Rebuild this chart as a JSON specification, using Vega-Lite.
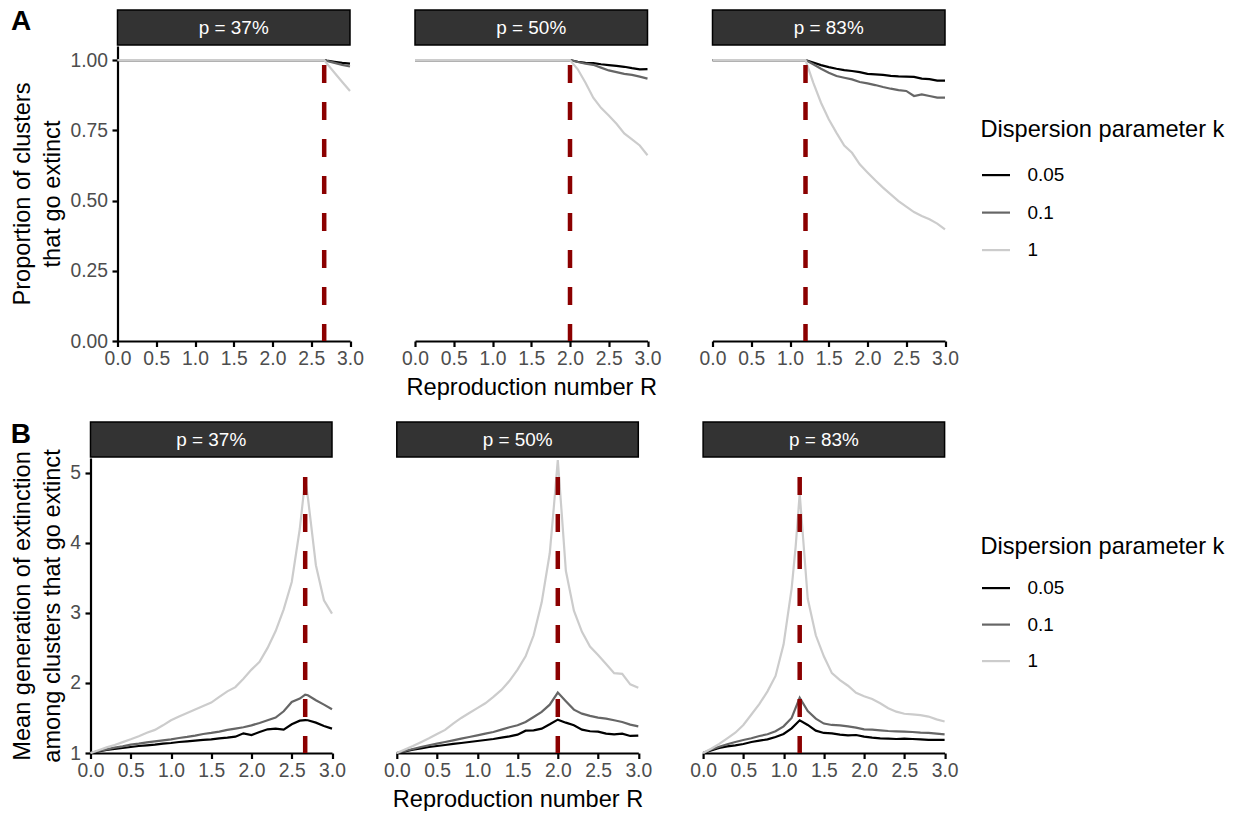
{
"$schema": "https://vega.github.io/schema/vega-lite/v6.json",
"background": "white",
"padding": {"left": 10.5, "top": 7, "right": 5, "bottom": 0},
"config": {
  "font": "Liberation Sans",
  "view": {"stroke": null},
  "axis": {"grid": false, "domainColor": "#000000", "domainWidth": 2.2, "tickColor": "#000000", "tickWidth": 2.2, "tickSize": 5.5, "labelColor": "#4d4d4d", "labelFontSize": 19.3, "labelOverlap": false, "labelFlush": false, "titleFontSize": 23.6, "titleFontWeight": "normal", "titleColor": "#000000", "titleLineHeight": 30},
  "axisX": {"labelPadding": 2.5, "titlePadding": 7, "labelOverlap": false, "labelSeparation": -20},
  "axisY": {"labelPadding": 4.5, "titlePadding": 5},
  "legend": {"titleFontSize": 23.6, "titleFontWeight": "normal", "titleColor": "#000000", "titleLimit": 400, "labelFontSize": 18.9, "labelColor": "#000000", "symbolType": "stroke", "symbolSize": 784, "symbolStrokeWidth": 2.2, "rowPadding": 11.5, "titlePadding": 18, "labelOffset": 16, "padding": 0}
},
"datasets": {
"ext": [
{"p":37,"k":"0.05","R":0,"v":1},{"p":37,"k":"0.05","R":0.5,"v":1},{"p":37,"k":"0.05","R":1,"v":1},{"p":37,"k":"0.05","R":1.5,"v":1},{"p":37,"k":"0.05","R":2,"v":1},{"p":37,"k":"0.05","R":2.5,"v":1},{"p":37,"k":"0.05","R":2.6,"v":1},{"p":37,"k":"0.05","R":2.667,"v":1},{"p":37,"k":"0.05","R":2.7,"v":0.998},{"p":37,"k":"0.05","R":2.8,"v":0.994},{"p":37,"k":"0.05","R":2.9,"v":0.99},{"p":37,"k":"0.05","R":3,"v":0.987},
{"p":37,"k":"0.1","R":0,"v":1},{"p":37,"k":"0.1","R":0.5,"v":1},{"p":37,"k":"0.1","R":1,"v":1},{"p":37,"k":"0.1","R":1.5,"v":1},{"p":37,"k":"0.1","R":2,"v":1},{"p":37,"k":"0.1","R":2.5,"v":1},{"p":37,"k":"0.1","R":2.6,"v":1},{"p":37,"k":"0.1","R":2.667,"v":1},{"p":37,"k":"0.1","R":2.7,"v":0.997},{"p":37,"k":"0.1","R":2.8,"v":0.99},{"p":37,"k":"0.1","R":2.9,"v":0.983},{"p":37,"k":"0.1","R":3,"v":0.977},
{"p":37,"k":"1","R":0,"v":1},{"p":37,"k":"1","R":0.5,"v":1},{"p":37,"k":"1","R":1,"v":1},{"p":37,"k":"1","R":1.5,"v":1},{"p":37,"k":"1","R":2,"v":1},{"p":37,"k":"1","R":2.5,"v":1},{"p":37,"k":"1","R":2.6,"v":1},{"p":37,"k":"1","R":2.667,"v":1},{"p":37,"k":"1","R":2.7,"v":0.988},{"p":37,"k":"1","R":2.8,"v":0.955},{"p":37,"k":"1","R":2.9,"v":0.922},{"p":37,"k":"1","R":3,"v":0.89},
{"p":50,"k":"0.05","R":0,"v":1},{"p":50,"k":"0.05","R":0.5,"v":1},{"p":50,"k":"0.05","R":1,"v":1},{"p":50,"k":"0.05","R":1.5,"v":1},{"p":50,"k":"0.05","R":2,"v":1},{"p":50,"k":"0.05","R":2.1,"v":0.994},{"p":50,"k":"0.05","R":2.2,"v":0.99},{"p":50,"k":"0.05","R":2.3,"v":0.989},{"p":50,"k":"0.05","R":2.4,"v":0.985},{"p":50,"k":"0.05","R":2.5,"v":0.982},{"p":50,"k":"0.05","R":2.6,"v":0.979},{"p":50,"k":"0.05","R":2.7,"v":0.976},{"p":50,"k":"0.05","R":2.8,"v":0.971},{"p":50,"k":"0.05","R":2.9,"v":0.967},{"p":50,"k":"0.05","R":3,"v":0.968},
{"p":50,"k":"0.1","R":0,"v":1},{"p":50,"k":"0.1","R":0.5,"v":1},{"p":50,"k":"0.1","R":1,"v":1},{"p":50,"k":"0.1","R":1.5,"v":1},{"p":50,"k":"0.1","R":2,"v":1},{"p":50,"k":"0.1","R":2.1,"v":0.993},{"p":50,"k":"0.1","R":2.2,"v":0.987},{"p":50,"k":"0.1","R":2.3,"v":0.983},{"p":50,"k":"0.1","R":2.4,"v":0.973},{"p":50,"k":"0.1","R":2.5,"v":0.963},{"p":50,"k":"0.1","R":2.6,"v":0.957},{"p":50,"k":"0.1","R":2.7,"v":0.951},{"p":50,"k":"0.1","R":2.8,"v":0.947},{"p":50,"k":"0.1","R":2.9,"v":0.941},{"p":50,"k":"0.1","R":3,"v":0.934},
{"p":50,"k":"1","R":0,"v":1},{"p":50,"k":"1","R":0.5,"v":1},{"p":50,"k":"1","R":1,"v":1},{"p":50,"k":"1","R":1.5,"v":1},{"p":50,"k":"1","R":2,"v":1},{"p":50,"k":"1","R":2.1,"v":0.967},{"p":50,"k":"1","R":2.2,"v":0.919},{"p":50,"k":"1","R":2.3,"v":0.866},{"p":50,"k":"1","R":2.4,"v":0.83},{"p":50,"k":"1","R":2.5,"v":0.803},{"p":50,"k":"1","R":2.6,"v":0.773},{"p":50,"k":"1","R":2.7,"v":0.739},{"p":50,"k":"1","R":2.8,"v":0.718},{"p":50,"k":"1","R":2.9,"v":0.696},{"p":50,"k":"1","R":3,"v":0.661},
{"p":83,"k":"0.05","R":0,"v":1},{"p":83,"k":"0.05","R":0.5,"v":1},{"p":83,"k":"0.05","R":1,"v":1},{"p":83,"k":"0.05","R":1.2,"v":1},{"p":83,"k":"0.05","R":1.3,"v":0.991},{"p":83,"k":"0.05","R":1.4,"v":0.982},{"p":83,"k":"0.05","R":1.5,"v":0.975},{"p":83,"k":"0.05","R":1.6,"v":0.969},{"p":83,"k":"0.05","R":1.7,"v":0.964},{"p":83,"k":"0.05","R":1.8,"v":0.961},{"p":83,"k":"0.05","R":1.9,"v":0.957},{"p":83,"k":"0.05","R":2,"v":0.951},{"p":83,"k":"0.05","R":2.1,"v":0.949},{"p":83,"k":"0.05","R":2.2,"v":0.947},{"p":83,"k":"0.05","R":2.3,"v":0.944},{"p":83,"k":"0.05","R":2.4,"v":0.942},{"p":83,"k":"0.05","R":2.5,"v":0.941},{"p":83,"k":"0.05","R":2.6,"v":0.94},{"p":83,"k":"0.05","R":2.7,"v":0.934},{"p":83,"k":"0.05","R":2.8,"v":0.932},{"p":83,"k":"0.05","R":2.9,"v":0.927},{"p":83,"k":"0.05","R":3,"v":0.927},
{"p":83,"k":"0.1","R":0,"v":1},{"p":83,"k":"0.1","R":0.5,"v":1},{"p":83,"k":"0.1","R":1,"v":1},{"p":83,"k":"0.1","R":1.2,"v":1},{"p":83,"k":"0.1","R":1.3,"v":0.985},{"p":83,"k":"0.1","R":1.4,"v":0.969},{"p":83,"k":"0.1","R":1.5,"v":0.955},{"p":83,"k":"0.1","R":1.6,"v":0.943},{"p":83,"k":"0.1","R":1.7,"v":0.937},{"p":83,"k":"0.1","R":1.8,"v":0.931},{"p":83,"k":"0.1","R":1.9,"v":0.922},{"p":83,"k":"0.1","R":2,"v":0.917},{"p":83,"k":"0.1","R":2.1,"v":0.911},{"p":83,"k":"0.1","R":2.2,"v":0.904},{"p":83,"k":"0.1","R":2.3,"v":0.898},{"p":83,"k":"0.1","R":2.4,"v":0.893},{"p":83,"k":"0.1","R":2.5,"v":0.89},{"p":83,"k":"0.1","R":2.6,"v":0.872},{"p":83,"k":"0.1","R":2.7,"v":0.878},{"p":83,"k":"0.1","R":2.8,"v":0.872},{"p":83,"k":"0.1","R":2.9,"v":0.866},{"p":83,"k":"0.1","R":3,"v":0.866},
{"p":83,"k":"1","R":0,"v":1},{"p":83,"k":"1","R":0.5,"v":1},{"p":83,"k":"1","R":1,"v":1},{"p":83,"k":"1","R":1.2,"v":1},{"p":83,"k":"1","R":1.3,"v":0.92},{"p":83,"k":"1","R":1.4,"v":0.848},{"p":83,"k":"1","R":1.5,"v":0.789},{"p":83,"k":"1","R":1.6,"v":0.741},{"p":83,"k":"1","R":1.7,"v":0.696},{"p":83,"k":"1","R":1.8,"v":0.67},{"p":83,"k":"1","R":1.9,"v":0.629},{"p":83,"k":"1","R":2,"v":0.6},{"p":83,"k":"1","R":2.1,"v":0.572},{"p":83,"k":"1","R":2.2,"v":0.546},{"p":83,"k":"1","R":2.3,"v":0.522},{"p":83,"k":"1","R":2.4,"v":0.498},{"p":83,"k":"1","R":2.5,"v":0.478},{"p":83,"k":"1","R":2.6,"v":0.459},{"p":83,"k":"1","R":2.7,"v":0.445},{"p":83,"k":"1","R":2.8,"v":0.433},{"p":83,"k":"1","R":2.9,"v":0.418},{"p":83,"k":"1","R":3,"v":0.397}
],
"gen": [
{"p":37,"k":"0.05","R":0,"v":1},{"p":37,"k":"0.05","R":0.1,"v":1.024},{"p":37,"k":"0.05","R":0.2,"v":1.043},{"p":37,"k":"0.05","R":0.3,"v":1.057},{"p":37,"k":"0.05","R":0.4,"v":1.071},{"p":37,"k":"0.05","R":0.5,"v":1.086},{"p":37,"k":"0.05","R":0.6,"v":1.1},{"p":37,"k":"0.05","R":0.7,"v":1.11},{"p":37,"k":"0.05","R":0.8,"v":1.119},{"p":37,"k":"0.05","R":0.9,"v":1.133},{"p":37,"k":"0.05","R":1,"v":1.143},{"p":37,"k":"0.05","R":1.1,"v":1.157},{"p":37,"k":"0.05","R":1.2,"v":1.167},{"p":37,"k":"0.05","R":1.3,"v":1.176},{"p":37,"k":"0.05","R":1.4,"v":1.186},{"p":37,"k":"0.05","R":1.5,"v":1.195},{"p":37,"k":"0.05","R":1.6,"v":1.21},{"p":37,"k":"0.05","R":1.7,"v":1.219},{"p":37,"k":"0.05","R":1.8,"v":1.233},{"p":37,"k":"0.05","R":1.9,"v":1.281},{"p":37,"k":"0.05","R":2,"v":1.257},{"p":37,"k":"0.05","R":2.1,"v":1.3},{"p":37,"k":"0.05","R":2.2,"v":1.338},{"p":37,"k":"0.05","R":2.3,"v":1.348},{"p":37,"k":"0.05","R":2.4,"v":1.333},{"p":37,"k":"0.05","R":2.5,"v":1.41},{"p":37,"k":"0.05","R":2.6,"v":1.462},{"p":37,"k":"0.05","R":2.667,"v":1.47},{"p":37,"k":"0.05","R":2.7,"v":1.467},{"p":37,"k":"0.05","R":2.8,"v":1.433},{"p":37,"k":"0.05","R":2.9,"v":1.386},{"p":37,"k":"0.05","R":3,"v":1.348},
{"p":37,"k":"0.1","R":0,"v":1},{"p":37,"k":"0.1","R":0.1,"v":1.029},{"p":37,"k":"0.1","R":0.2,"v":1.052},{"p":37,"k":"0.1","R":0.3,"v":1.076},{"p":37,"k":"0.1","R":0.4,"v":1.095},{"p":37,"k":"0.1","R":0.5,"v":1.119},{"p":37,"k":"0.1","R":0.6,"v":1.133},{"p":37,"k":"0.1","R":0.7,"v":1.152},{"p":37,"k":"0.1","R":0.8,"v":1.167},{"p":37,"k":"0.1","R":0.9,"v":1.181},{"p":37,"k":"0.1","R":1,"v":1.195},{"p":37,"k":"0.1","R":1.1,"v":1.214},{"p":37,"k":"0.1","R":1.2,"v":1.229},{"p":37,"k":"0.1","R":1.3,"v":1.248},{"p":37,"k":"0.1","R":1.4,"v":1.271},{"p":37,"k":"0.1","R":1.5,"v":1.286},{"p":37,"k":"0.1","R":1.6,"v":1.305},{"p":37,"k":"0.1","R":1.7,"v":1.329},{"p":37,"k":"0.1","R":1.8,"v":1.348},{"p":37,"k":"0.1","R":1.9,"v":1.367},{"p":37,"k":"0.1","R":2,"v":1.395},{"p":37,"k":"0.1","R":2.1,"v":1.429},{"p":37,"k":"0.1","R":2.2,"v":1.467},{"p":37,"k":"0.1","R":2.3,"v":1.505},{"p":37,"k":"0.1","R":2.4,"v":1.595},{"p":37,"k":"0.1","R":2.5,"v":1.729},{"p":37,"k":"0.1","R":2.6,"v":1.776},{"p":37,"k":"0.1","R":2.667,"v":1.833},{"p":37,"k":"0.1","R":2.7,"v":1.824},{"p":37,"k":"0.1","R":2.8,"v":1.752},{"p":37,"k":"0.1","R":2.9,"v":1.69},{"p":37,"k":"0.1","R":3,"v":1.624},
{"p":37,"k":"1","R":0,"v":1},{"p":37,"k":"1","R":0.1,"v":1.04},{"p":37,"k":"1","R":0.2,"v":1.08},{"p":37,"k":"1","R":0.3,"v":1.115},{"p":37,"k":"1","R":0.4,"v":1.155},{"p":37,"k":"1","R":0.5,"v":1.195},{"p":37,"k":"1","R":0.6,"v":1.24},{"p":37,"k":"1","R":0.7,"v":1.29},{"p":37,"k":"1","R":0.8,"v":1.33},{"p":37,"k":"1","R":0.9,"v":1.395},{"p":37,"k":"1","R":1,"v":1.467},{"p":37,"k":"1","R":1.1,"v":1.52},{"p":37,"k":"1","R":1.2,"v":1.57},{"p":37,"k":"1","R":1.3,"v":1.62},{"p":37,"k":"1","R":1.4,"v":1.67},{"p":37,"k":"1","R":1.5,"v":1.72},{"p":37,"k":"1","R":1.6,"v":1.8},{"p":37,"k":"1","R":1.7,"v":1.88},{"p":37,"k":"1","R":1.8,"v":1.94},{"p":37,"k":"1","R":1.9,"v":2.06},{"p":37,"k":"1","R":2,"v":2.19},{"p":37,"k":"1","R":2.1,"v":2.3},{"p":37,"k":"1","R":2.2,"v":2.5},{"p":37,"k":"1","R":2.3,"v":2.74},{"p":37,"k":"1","R":2.4,"v":3.05},{"p":37,"k":"1","R":2.5,"v":3.44},{"p":37,"k":"1","R":2.6,"v":4.2},{"p":37,"k":"1","R":2.667,"v":4.9},{"p":37,"k":"1","R":2.7,"v":4.65},{"p":37,"k":"1","R":2.8,"v":3.68},{"p":37,"k":"1","R":2.9,"v":3.18},{"p":37,"k":"1","R":3,"v":2.99},
{"p":50,"k":"0.05","R":0,"v":1},{"p":50,"k":"0.05","R":0.1,"v":1.024},{"p":50,"k":"0.05","R":0.2,"v":1.048},{"p":50,"k":"0.05","R":0.3,"v":1.067},{"p":50,"k":"0.05","R":0.4,"v":1.086},{"p":50,"k":"0.05","R":0.5,"v":1.1},{"p":50,"k":"0.05","R":0.6,"v":1.114},{"p":50,"k":"0.05","R":0.7,"v":1.129},{"p":50,"k":"0.05","R":0.8,"v":1.143},{"p":50,"k":"0.05","R":0.9,"v":1.157},{"p":50,"k":"0.05","R":1,"v":1.171},{"p":50,"k":"0.05","R":1.1,"v":1.186},{"p":50,"k":"0.05","R":1.2,"v":1.2},{"p":50,"k":"0.05","R":1.3,"v":1.219},{"p":50,"k":"0.05","R":1.4,"v":1.238},{"p":50,"k":"0.05","R":1.5,"v":1.262},{"p":50,"k":"0.05","R":1.6,"v":1.319},{"p":50,"k":"0.05","R":1.7,"v":1.324},{"p":50,"k":"0.05","R":1.8,"v":1.348},{"p":50,"k":"0.05","R":1.9,"v":1.41},{"p":50,"k":"0.05","R":2,"v":1.476},{"p":50,"k":"0.05","R":2.1,"v":1.433},{"p":50,"k":"0.05","R":2.2,"v":1.395},{"p":50,"k":"0.05","R":2.3,"v":1.333},{"p":50,"k":"0.05","R":2.4,"v":1.31},{"p":50,"k":"0.05","R":2.5,"v":1.305},{"p":50,"k":"0.05","R":2.6,"v":1.276},{"p":50,"k":"0.05","R":2.7,"v":1.267},{"p":50,"k":"0.05","R":2.8,"v":1.276},{"p":50,"k":"0.05","R":2.9,"v":1.243},{"p":50,"k":"0.05","R":3,"v":1.248},
{"p":50,"k":"0.1","R":0,"v":1},{"p":50,"k":"0.1","R":0.1,"v":1.029},{"p":50,"k":"0.1","R":0.2,"v":1.057},{"p":50,"k":"0.1","R":0.3,"v":1.086},{"p":50,"k":"0.1","R":0.4,"v":1.11},{"p":50,"k":"0.1","R":0.5,"v":1.133},{"p":50,"k":"0.1","R":0.6,"v":1.157},{"p":50,"k":"0.1","R":0.7,"v":1.181},{"p":50,"k":"0.1","R":0.8,"v":1.205},{"p":50,"k":"0.1","R":0.9,"v":1.229},{"p":50,"k":"0.1","R":1,"v":1.252},{"p":50,"k":"0.1","R":1.1,"v":1.276},{"p":50,"k":"0.1","R":1.2,"v":1.3},{"p":50,"k":"0.1","R":1.3,"v":1.333},{"p":50,"k":"0.1","R":1.4,"v":1.367},{"p":50,"k":"0.1","R":1.5,"v":1.395},{"p":50,"k":"0.1","R":1.6,"v":1.443},{"p":50,"k":"0.1","R":1.7,"v":1.514},{"p":50,"k":"0.1","R":1.8,"v":1.586},{"p":50,"k":"0.1","R":1.9,"v":1.69},{"p":50,"k":"0.1","R":2,"v":1.862},{"p":50,"k":"0.1","R":2.1,"v":1.738},{"p":50,"k":"0.1","R":2.2,"v":1.619},{"p":50,"k":"0.1","R":2.3,"v":1.562},{"p":50,"k":"0.1","R":2.4,"v":1.529},{"p":50,"k":"0.1","R":2.5,"v":1.505},{"p":50,"k":"0.1","R":2.6,"v":1.49},{"p":50,"k":"0.1","R":2.7,"v":1.467},{"p":50,"k":"0.1","R":2.8,"v":1.443},{"p":50,"k":"0.1","R":2.9,"v":1.405},{"p":50,"k":"0.1","R":3,"v":1.381},
{"p":50,"k":"1","R":0,"v":1},{"p":50,"k":"1","R":0.1,"v":1.05},{"p":50,"k":"1","R":0.2,"v":1.1},{"p":50,"k":"1","R":0.3,"v":1.155},{"p":50,"k":"1","R":0.4,"v":1.21},{"p":50,"k":"1","R":0.5,"v":1.27},{"p":50,"k":"1","R":0.6,"v":1.33},{"p":50,"k":"1","R":0.7,"v":1.42},{"p":50,"k":"1","R":0.8,"v":1.5},{"p":50,"k":"1","R":0.9,"v":1.57},{"p":50,"k":"1","R":1,"v":1.64},{"p":50,"k":"1","R":1.1,"v":1.71},{"p":50,"k":"1","R":1.2,"v":1.8},{"p":50,"k":"1","R":1.3,"v":1.9},{"p":50,"k":"1","R":1.4,"v":2.03},{"p":50,"k":"1","R":1.5,"v":2.19},{"p":50,"k":"1","R":1.6,"v":2.38},{"p":50,"k":"1","R":1.7,"v":2.68},{"p":50,"k":"1","R":1.8,"v":3.15},{"p":50,"k":"1","R":1.9,"v":3.85},{"p":50,"k":"1","R":1.95,"v":4.5},{"p":50,"k":"1","R":2,"v":5.18},{"p":50,"k":"1","R":2.05,"v":4.4},{"p":50,"k":"1","R":2.1,"v":3.6},{"p":50,"k":"1","R":2.2,"v":3.03},{"p":50,"k":"1","R":2.3,"v":2.73},{"p":50,"k":"1","R":2.4,"v":2.52},{"p":50,"k":"1","R":2.5,"v":2.4},{"p":50,"k":"1","R":2.6,"v":2.27},{"p":50,"k":"1","R":2.7,"v":2.14},{"p":50,"k":"1","R":2.8,"v":2.13},{"p":50,"k":"1","R":2.9,"v":1.98},{"p":50,"k":"1","R":3,"v":1.93},
{"p":83,"k":"0.05","R":0,"v":1},{"p":83,"k":"0.05","R":0.1,"v":1.038},{"p":83,"k":"0.05","R":0.2,"v":1.071},{"p":83,"k":"0.05","R":0.3,"v":1.095},{"p":83,"k":"0.05","R":0.4,"v":1.11},{"p":83,"k":"0.05","R":0.5,"v":1.129},{"p":83,"k":"0.05","R":0.6,"v":1.157},{"p":83,"k":"0.05","R":0.7,"v":1.176},{"p":83,"k":"0.05","R":0.8,"v":1.195},{"p":83,"k":"0.05","R":0.9,"v":1.229},{"p":83,"k":"0.05","R":1,"v":1.271},{"p":83,"k":"0.05","R":1.1,"v":1.352},{"p":83,"k":"0.05","R":1.2,"v":1.467},{"p":83,"k":"0.05","R":1.3,"v":1.4},{"p":83,"k":"0.05","R":1.4,"v":1.319},{"p":83,"k":"0.05","R":1.5,"v":1.286},{"p":83,"k":"0.05","R":1.6,"v":1.281},{"p":83,"k":"0.05","R":1.7,"v":1.262},{"p":83,"k":"0.05","R":1.8,"v":1.252},{"p":83,"k":"0.05","R":1.9,"v":1.257},{"p":83,"k":"0.05","R":2,"v":1.233},{"p":83,"k":"0.05","R":2.1,"v":1.219},{"p":83,"k":"0.05","R":2.2,"v":1.21},{"p":83,"k":"0.05","R":2.3,"v":1.205},{"p":83,"k":"0.05","R":2.4,"v":1.2},{"p":83,"k":"0.05","R":2.5,"v":1.205},{"p":83,"k":"0.05","R":2.6,"v":1.2},{"p":83,"k":"0.05","R":2.7,"v":1.195},{"p":83,"k":"0.05","R":2.8,"v":1.186},{"p":83,"k":"0.05","R":2.9,"v":1.186},{"p":83,"k":"0.05","R":3,"v":1.186},
{"p":83,"k":"0.1","R":0,"v":1},{"p":83,"k":"0.1","R":0.1,"v":1.05},{"p":83,"k":"0.1","R":0.2,"v":1.09},{"p":83,"k":"0.1","R":0.3,"v":1.124},{"p":83,"k":"0.1","R":0.4,"v":1.157},{"p":83,"k":"0.1","R":0.5,"v":1.186},{"p":83,"k":"0.1","R":0.6,"v":1.21},{"p":83,"k":"0.1","R":0.7,"v":1.243},{"p":83,"k":"0.1","R":0.8,"v":1.267},{"p":83,"k":"0.1","R":0.9,"v":1.31},{"p":83,"k":"0.1","R":1,"v":1.38},{"p":83,"k":"0.1","R":1.1,"v":1.5},{"p":83,"k":"0.1","R":1.2,"v":1.79},{"p":83,"k":"0.1","R":1.3,"v":1.6},{"p":83,"k":"0.1","R":1.4,"v":1.49},{"p":83,"k":"0.1","R":1.5,"v":1.42},{"p":83,"k":"0.1","R":1.6,"v":1.4},{"p":83,"k":"0.1","R":1.7,"v":1.395},{"p":83,"k":"0.1","R":1.8,"v":1.38},{"p":83,"k":"0.1","R":1.9,"v":1.362},{"p":83,"k":"0.1","R":2,"v":1.338},{"p":83,"k":"0.1","R":2.1,"v":1.333},{"p":83,"k":"0.1","R":2.2,"v":1.324},{"p":83,"k":"0.1","R":2.3,"v":1.314},{"p":83,"k":"0.1","R":2.4,"v":1.31},{"p":83,"k":"0.1","R":2.5,"v":1.305},{"p":83,"k":"0.1","R":2.6,"v":1.3},{"p":83,"k":"0.1","R":2.7,"v":1.29},{"p":83,"k":"0.1","R":2.8,"v":1.286},{"p":83,"k":"0.1","R":2.9,"v":1.276},{"p":83,"k":"0.1","R":3,"v":1.267},
{"p":83,"k":"1","R":0,"v":1},{"p":83,"k":"1","R":0.1,"v":1.06},{"p":83,"k":"1","R":0.2,"v":1.13},{"p":83,"k":"1","R":0.3,"v":1.21},{"p":83,"k":"1","R":0.4,"v":1.29},{"p":83,"k":"1","R":0.5,"v":1.4},{"p":83,"k":"1","R":0.6,"v":1.55},{"p":83,"k":"1","R":0.7,"v":1.7},{"p":83,"k":"1","R":0.8,"v":1.88},{"p":83,"k":"1","R":0.9,"v":2.1},{"p":83,"k":"1","R":1,"v":2.55},{"p":83,"k":"1","R":1.1,"v":3.35},{"p":83,"k":"1","R":1.15,"v":3.95},{"p":83,"k":"1","R":1.2,"v":4.7},{"p":83,"k":"1","R":1.25,"v":3.95},{"p":83,"k":"1","R":1.3,"v":3.2},{"p":83,"k":"1","R":1.4,"v":2.68},{"p":83,"k":"1","R":1.5,"v":2.38},{"p":83,"k":"1","R":1.6,"v":2.14},{"p":83,"k":"1","R":1.7,"v":2.04},{"p":83,"k":"1","R":1.8,"v":1.96},{"p":83,"k":"1","R":1.9,"v":1.86},{"p":83,"k":"1","R":2,"v":1.81},{"p":83,"k":"1","R":2.1,"v":1.77},{"p":83,"k":"1","R":2.2,"v":1.71},{"p":83,"k":"1","R":2.3,"v":1.64},{"p":83,"k":"1","R":2.4,"v":1.59},{"p":83,"k":"1","R":2.5,"v":1.56},{"p":83,"k":"1","R":2.6,"v":1.55},{"p":83,"k":"1","R":2.7,"v":1.54},{"p":83,"k":"1","R":2.8,"v":1.52},{"p":83,"k":"1","R":2.9,"v":1.48},{"p":83,"k":"1","R":3,"v":1.45}
]
},
"columns": 1,
"align": "none",
"spacing": 22,
"resolve": {"scale": {"color": "independent"}},
"concat": [
{
 "title": {"text": "A", "anchor": "start", "frame": "bounds", "fontSize": 28, "fontWeight": "bold", "color": "#000000", "offset": 0, "dy": 28},
 "bounds": "flush",
 "spacing": 26,
 "hconcat": [
  {"width": 1, "height": 1, "data": {"values": [{}]}, "mark": {"type": "point", "opacity": 0}},
  {
  "columns": 3, "bounds": "flush", "spacing": {"row": 1, "column": 64.5},
  "concat": [
   {"width": 232.5, "height": 35, "data": {"values": [{"lab": "p = 37%"}]}, "view": {"fill": "#333333", "stroke": "#000000", "strokeWidth": 1.5}, "mark": {"type": "text", "fontSize": 18.9, "color": "#ffffff"}, "encoding": {"text": {"field": "lab"}}},
   {"width": 232.5, "height": 35, "data": {"values": [{"lab": "p = 50%"}]}, "view": {"fill": "#333333", "stroke": "#000000", "strokeWidth": 1.5}, "mark": {"type": "text", "fontSize": 18.9, "color": "#ffffff"}, "encoding": {"text": {"field": "lab"}}},
   {"width": 232.5, "height": 35, "data": {"values": [{"lab": "p = 83%"}]}, "view": {"fill": "#333333", "stroke": "#000000", "strokeWidth": 1.5}, "mark": {"type": "text", "fontSize": 18.9, "color": "#ffffff"}, "encoding": {"text": {"field": "lab"}}},
   {"width": 232.5, "height": 295, "layer": [
    {"data": {"name": "ext"}, "transform": [{"filter": "datum.p == 37"}], "mark": {"type": "line", "strokeWidth": 2.2}, "encoding": {
      "x": {"field": "R", "type": "quantitative", "scale": {"domain": [0, 3], "nice": false, "zero": false}, "axis": {"values": [0, 0.5, 1, 1.5, 2, 2.5, 3], "format": ".1f", "title": null, "labelOverlap": false, "labelSeparation": -20}},
      "y": {"field": "v", "type": "quantitative", "scale": {"domain": [0, 1.05], "nice": false, "zero": false}, "axis": {"values": [0, 0.25, 0.5, 0.75, 1], "format": ".2f", "labelOverlap": false, "title": ["Proportion of clusters", "that go extinct"]}},
      "color": {"field": "k", "type": "nominal", "scale": {"domain": ["0.05", "0.1", "1"], "range": ["#000000", "#666666", "#cccccc"]}, "legend": {"title": "Dispersion parameter k", "orient": "none", "legendX": 890, "legendY": 108, "titlePadding": 18, "rowPadding": 11.5}}}},
    {"data": {"values": [{"R": 2.667}]}, "mark": {"type": "rule", "color": "#8b0000", "strokeWidth": 4.5, "strokeDash": [18, 19], "strokeDashOffset": 18}, "encoding": {"x": {"field": "R", "type": "quantitative", "axis": {"values": [0, 0.5, 1, 1.5, 2, 2.5, 3], "format": ".1f", "title": null, "labelOverlap": false, "labelSeparation": -20}}}}
   ]},
   {"width": 232.5, "height": 295, "layer": [
    {"data": {"name": "ext"}, "transform": [{"filter": "datum.p == 50"}], "mark": {"type": "line", "strokeWidth": 2.2}, "encoding": {
      "x": {"field": "R", "type": "quantitative", "scale": {"domain": [0, 3], "nice": false, "zero": false}, "axis": {"values": [0, 0.5, 1, 1.5, 2, 2.5, 3], "format": ".1f", "title": "Reproduction number R", "labelOverlap": false, "labelSeparation": -20}},
      "y": {"field": "v", "type": "quantitative", "scale": {"domain": [0, 1.05], "nice": false, "zero": false}, "axis": null},
      "color": {"field": "k", "type": "nominal", "scale": {"domain": ["0.05", "0.1", "1"], "range": ["#000000", "#666666", "#cccccc"]}, "legend": {"title": "Dispersion parameter k", "orient": "none", "legendX": 890, "legendY": 108, "titlePadding": 18, "rowPadding": 11.5}}}},
    {"data": {"values": [{"R": 2}]}, "mark": {"type": "rule", "color": "#8b0000", "strokeWidth": 4.5, "strokeDash": [18, 19], "strokeDashOffset": 18}, "encoding": {"x": {"field": "R", "type": "quantitative", "axis": {"values": [0, 0.5, 1, 1.5, 2, 2.5, 3], "format": ".1f", "title": "Reproduction number R", "labelOverlap": false, "labelSeparation": -20}}}}
   ]},
   {"width": 232.5, "height": 295, "layer": [
    {"data": {"name": "ext"}, "transform": [{"filter": "datum.p == 83"}], "mark": {"type": "line", "strokeWidth": 2.2}, "encoding": {
      "x": {"field": "R", "type": "quantitative", "scale": {"domain": [0, 3], "nice": false, "zero": false}, "axis": {"values": [0, 0.5, 1, 1.5, 2, 2.5, 3], "format": ".1f", "title": null, "labelOverlap": false, "labelSeparation": -20}},
      "y": {"field": "v", "type": "quantitative", "scale": {"domain": [0, 1.05], "nice": false, "zero": false}, "axis": null},
      "color": {"field": "k", "type": "nominal", "scale": {"domain": ["0.05", "0.1", "1"], "range": ["#000000", "#666666", "#cccccc"]}, "legend": {"title": "Dispersion parameter k", "orient": "none", "legendX": 890, "legendY": 108, "titlePadding": 18, "rowPadding": 11.5}}}},
    {"data": {"values": [{"R": 1.2}]}, "mark": {"type": "rule", "color": "#8b0000", "strokeWidth": 4.5, "strokeDash": [18, 19], "strokeDashOffset": 18}, "encoding": {"x": {"field": "R", "type": "quantitative", "axis": {"values": [0, 0.5, 1, 1.5, 2, 2.5, 3], "format": ".1f", "title": null, "labelOverlap": false, "labelSeparation": -20}}}}
   ]}
  ]
  }
 ]
},
{
 "title": {"text": "B", "anchor": "start", "frame": "bounds", "fontSize": 28, "fontWeight": "bold", "color": "#000000", "offset": 0, "dy": 28},
 "columns": 3, "bounds": "flush", "spacing": {"row": 1, "column": 64.3},
 "concat": [
  {"width": 241.5, "height": 35, "data": {"values": [{"lab": "p = 37%"}]}, "view": {"fill": "#333333", "stroke": "#000000", "strokeWidth": 1.5}, "mark": {"type": "text", "fontSize": 18.9, "color": "#ffffff"}, "encoding": {"text": {"field": "lab"}}},
  {"width": 241.5, "height": 35, "data": {"values": [{"lab": "p = 50%"}]}, "view": {"fill": "#333333", "stroke": "#000000", "strokeWidth": 1.5}, "mark": {"type": "text", "fontSize": 18.9, "color": "#ffffff"}, "encoding": {"text": {"field": "lab"}}},
  {"width": 241.5, "height": 35, "data": {"values": [{"lab": "p = 83%"}]}, "view": {"fill": "#333333", "stroke": "#000000", "strokeWidth": 1.5}, "mark": {"type": "text", "fontSize": 18.9, "color": "#ffffff"}, "encoding": {"text": {"field": "lab"}}},
  {"width": 241.5, "height": 295, "layer": [
   {"data": {"name": "gen"}, "transform": [{"filter": "datum.p == 37"}], "mark": {"type": "line", "strokeWidth": 2.2}, "encoding": {
     "x": {"field": "R", "type": "quantitative", "scale": {"domain": [0, 3], "nice": false, "zero": false}, "axis": {"values": [0, 0.5, 1, 1.5, 2, 2.5, 3], "format": ".1f", "title": null, "labelOverlap": false, "labelSeparation": -20}},
     "y": {"field": "v", "type": "quantitative", "scale": {"domain": [1, 5.21], "nice": false, "zero": false}, "axis": {"values": [1, 2, 3, 4, 5], "format": "d", "labelOverlap": false, "title": ["Mean generation of extinction", "among clusters that go extinct"]}},
     "color": {"field": "k", "type": "nominal", "scale": {"domain": ["0.05", "0.1", "1"], "range": ["#000000", "#666666", "#cccccc"]}, "legend": {"title": "Dispersion parameter k", "orient": "none", "legendX": 890, "legendY": 113, "titlePadding": 14, "rowPadding": 10.5}}}},
   {"data": {"values": [{"R": 2.667}]}, "mark": {"type": "rule", "color": "#8b0000", "strokeWidth": 4.5, "strokeDash": [18, 19], "strokeDashOffset": 18}, "encoding": {"x": {"field": "R", "type": "quantitative", "axis": {"values": [0, 0.5, 1, 1.5, 2, 2.5, 3], "format": ".1f", "title": null, "labelOverlap": false, "labelSeparation": -20}}}}
  ]},
  {"width": 241.5, "height": 295, "layer": [
   {"data": {"name": "gen"}, "transform": [{"filter": "datum.p == 50"}], "mark": {"type": "line", "strokeWidth": 2.2}, "encoding": {
     "x": {"field": "R", "type": "quantitative", "scale": {"domain": [0, 3], "nice": false, "zero": false}, "axis": {"values": [0, 0.5, 1, 1.5, 2, 2.5, 3], "format": ".1f", "title": "Reproduction number R", "labelOverlap": false, "labelSeparation": -20}},
     "y": {"field": "v", "type": "quantitative", "scale": {"domain": [1, 5.21], "nice": false, "zero": false}, "axis": null},
     "color": {"field": "k", "type": "nominal", "scale": {"domain": ["0.05", "0.1", "1"], "range": ["#000000", "#666666", "#cccccc"]}, "legend": {"title": "Dispersion parameter k", "orient": "none", "legendX": 890, "legendY": 113, "titlePadding": 14, "rowPadding": 10.5}}}},
   {"data": {"values": [{"R": 2}]}, "mark": {"type": "rule", "color": "#8b0000", "strokeWidth": 4.5, "strokeDash": [18, 19], "strokeDashOffset": 18}, "encoding": {"x": {"field": "R", "type": "quantitative", "axis": {"values": [0, 0.5, 1, 1.5, 2, 2.5, 3], "format": ".1f", "title": "Reproduction number R", "labelOverlap": false, "labelSeparation": -20}}}}
  ]},
  {"width": 241.5, "height": 295, "layer": [
   {"data": {"name": "gen"}, "transform": [{"filter": "datum.p == 83"}], "mark": {"type": "line", "strokeWidth": 2.2}, "encoding": {
     "x": {"field": "R", "type": "quantitative", "scale": {"domain": [0, 3], "nice": false, "zero": false}, "axis": {"values": [0, 0.5, 1, 1.5, 2, 2.5, 3], "format": ".1f", "title": null, "labelOverlap": false, "labelSeparation": -20}},
     "y": {"field": "v", "type": "quantitative", "scale": {"domain": [1, 5.21], "nice": false, "zero": false}, "axis": null},
     "color": {"field": "k", "type": "nominal", "scale": {"domain": ["0.05", "0.1", "1"], "range": ["#000000", "#666666", "#cccccc"]}, "legend": {"title": "Dispersion parameter k", "orient": "none", "legendX": 890, "legendY": 113, "titlePadding": 14, "rowPadding": 10.5}}}},
   {"data": {"values": [{"R": 1.2}]}, "mark": {"type": "rule", "color": "#8b0000", "strokeWidth": 4.5, "strokeDash": [18, 19], "strokeDashOffset": 18}, "encoding": {"x": {"field": "R", "type": "quantitative", "axis": {"values": [0, 0.5, 1, 1.5, 2, 2.5, 3], "format": ".1f", "title": null, "labelOverlap": false, "labelSeparation": -20}}}}
  ]}
 ]
}
]
}
